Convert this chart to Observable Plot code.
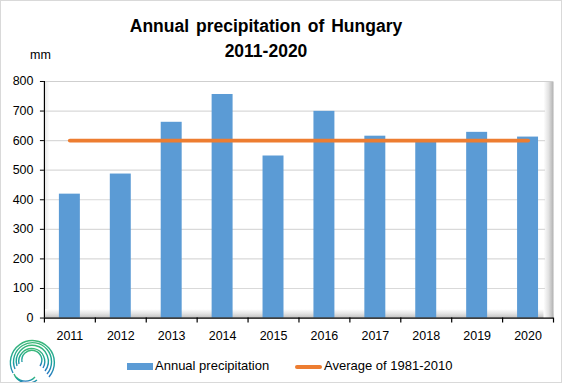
<!DOCTYPE html>
<html>
<head>
<meta charset="utf-8">
<script src="https://cdn.jsdelivr.net/npm/d3@7"></script>
<script src="https://cdn.jsdelivr.net/npm/@observablehq/plot@0.6"></script>
<style>
  html, body { margin: 0; padding: 0; background: #fff; }
  #wrap { position: relative; width: 562px; height: 383px; box-sizing: border-box; border: 1px solid #d9d9d9; font-family: "Liberation Sans", Arial, sans-serif; color: #000; overflow: hidden; }
  .title { position: absolute; left: 0; width: 530px; text-align: center; font-weight: bold; font-size: 17.5px; word-spacing: 2px; }
  #chart { position: absolute; left: -1px; top: 69px; }
  .lg { position: absolute; font-size: 13px; }
</style>
</head>
<body>
<svg width="0" height="0" style="position:absolute">
  <defs>
    <linearGradient id="gradR" x1="0" x2="1" y1="0" y2="0">
      <stop offset="0" stop-color="#ffffff"/>
      <stop offset="0.5" stop-color="#e2e2e2"/>
      <stop offset="1" stop-color="#b0b0b0"/>
    </linearGradient>
    <linearGradient id="gradB" x1="0" x2="0" y1="0" y2="1">
      <stop offset="0" stop-color="#ffffff"/>
      <stop offset="0.5" stop-color="#e4e4e4"/>
      <stop offset="1" stop-color="#c0c0c0"/>
    </linearGradient>
    <linearGradient id="gradL" x1="0" x2="1" y1="0" y2="0">
      <stop offset="0" stop-color="#e6e6e6"/>
      <stop offset="1" stop-color="#ffffff"/>
    </linearGradient>
    <linearGradient id="logoGrad" x1="0" x2="0" y1="0" y2="1">
      <stop offset="0" stop-color="#3cb878"/>
      <stop offset="0.6" stop-color="#1aa39a"/>
      <stop offset="1" stop-color="#2a79c4"/>
    </linearGradient>
  </defs>
</svg>
<div id="wrap">
  <div class="title" style="top:15px">Annual precipitation of Hungary</div>
  <div class="title" style="top:40px">2011-2020</div>
  <div style="position:absolute; left:29px; top:47px; font-size:12.5px">mm</div>
  <div id="chart"></div>
  <div class="lg" style="left:126px; top:362px; width:26px; height:7px; background:#5B9BD5"></div>
  <div class="lg" style="left:154px; top:357px">Annual precipitation</div>
  <div class="lg" style="left:294px; top:364px; width:27px; height:4px; border-radius:2px; background:#ED7D31"></div>
  <div class="lg" style="left:323px; top:357px">Average of 1981-2010</div>
  <svg style="position:absolute; left:4px; top:332px" width="54" height="52" viewBox="0 0 54 52">
    <g fill="none" stroke="url(#logoGrad)" stroke-width="1.4">
      <path d="M8 40 A22 22 0 1 1 44 44"/>
      <path d="M10 36 A19 19 0 1 1 42 41"/>
      <path d="M12 33 A16 16 0 1 1 40 38"/>
      <path d="M14 31 A13 13 0 1 1 38 35"/>
      <path d="M17 29 A10 10 0 1 1 35 33"/>
      <path d="M11 44 A13 13 0 0 0 30 44"/>
      <path d="M9 41 A15 15 0 0 0 32 47"/>
    </g>
  </svg>
</div>
<script>
const years = ["2011","2012","2013","2014","2015","2016","2017","2018","2019","2020"];
const precipitation = [419, 487, 662, 756, 548, 699, 615, 598, 628, 612];
const average1981_2010 = 600;
const yTicks = [0, 100, 200, 300, 400, 500, 600, 700, 800];

const rows = years.map((y, i) => ({year: y, value: precipitation[i], avg: average1981_2010}));
const half = (562 - 44 - 8) / 10 / 2;

const plot = Plot.plot({
  width: 562,
  height: 280,
  marginTop: 11,
  marginBottom: 32,
  marginLeft: 44,
  marginRight: 8,
  style: {background: "transparent", fontFamily: "'Liberation Sans', Arial, sans-serif", fontSize: "12.5px", color: "#000"},
  x: {type: "band", domain: years, padding: 0, axis: null},
  y: {domain: [0, 800], axis: null},
  marks: [
    Plot.frame({fill: "#ffffff"}),
    Plot.frame({fill: "url(#gradL)", insetRight: 505}),
    Plot.frame({fill: "url(#gradB)", insetTop: 228}),
    Plot.frame({fill: "url(#gradR)", insetLeft: 500}),
    Plot.ruleY(yTicks.slice(1, -1), {stroke: "#d9d9d9", strokeWidth: 1.2, insetRight: 8}),
    Plot.ruleY([yTicks[yTicks.length - 1]], {stroke: "#cfcfcf", strokeWidth: 1.2}),
    Plot.barY(rows, {x: "year", y: "value", fill: "#5B9BD5", insetLeft: 15, insetRight: 15}),
    Plot.lineY(rows, {x: "year", y: "avg", stroke: "#ED7D31", strokeWidth: 4, strokeLinecap: "round"}),
    Plot.ruleY([0], {stroke: "#000", strokeWidth: 1.2}),
    Plot.ruleX([years[0]], {y1: () => 0, y2: () => 800, dx: -half, stroke: "#000", strokeWidth: 1.2}),
    Plot.ruleX(years, {y1: () => 0, y2: () => 0, insetBottom: -5, dx: -half, stroke: "#000", strokeWidth: 1.2}),
    Plot.ruleX([years[years.length - 1]], {y1: () => 0, y2: () => 0, insetBottom: -5, dx: half, stroke: "#000", strokeWidth: 1.2}),
    Plot.axisY({ticks: yTicks, tickSize: 4, tickPadding: 7, stroke: "#000", fill: "#000", fontSize: 12.5, label: null}),
    Plot.axisX({tickSize: 0, tickPadding: 13, fill: "#000", fontSize: 12.5, label: null})
  ]
});
document.getElementById("chart").appendChild(plot);
</script>
</body>
</html>
